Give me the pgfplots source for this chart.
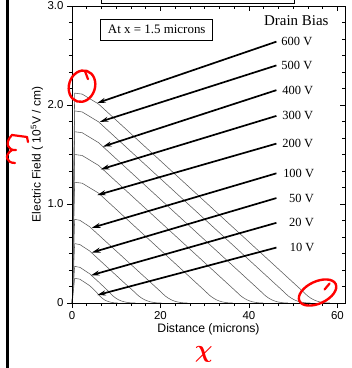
\documentclass[border=0pt]{standalone}
\usepackage{pgfplots}
\pgfplotsset{compat=1.18}
\usepackage{fontspec}
\setmainfont{Liberation Sans}
\newfontfamily\tnr{Liberation Serif}
\usetikzlibrary{arrows.meta,calc}
\begin{document}
\begin{tikzpicture}
\tikzset{
  arr/.style={line width=1.7bp, -{Stealth[length=8.5bp,width=5bp]}},
  lab/.style={anchor=west, inner sep=0pt, font=\tnr\fontsize{12.5}{14}\selectfont},
}
\pgfplotsset{
  common/.style={
    at={(0,0)}, anchor=south west,
    scale only axis, width=273bp, height=297bp,
    xmin=0, xmax=61.7, ymin=0, ymax=3,
    xtick={0,20,40,60}, ytick={0,1,2,3},
    minor x tick num=5, minor y tick num=5,
    major tick length=5bp, minor tick length=3bp,
    tick style={black, line width=0.6bp},
    axis line style={line width=0.8bp},
  },
  curve/.style={black!65, line width=0.55bp, no marks},
  tail/.style={black!65, line width=0.55bp, no marks, smooth, tension=0.55},
}
\begin{axis}[common,
  xtick pos=left, ytick pos=left, tick align=outside,
  yticklabels={0,1.0,2.0,3.0},
  ticklabel style={font=\fontsize{11.5}{13}\selectfont},
  /pgf/number format/assume math mode=true,
  clip=false]
% 600 V
\addplot[curve] coordinates {(0.05,0) (0.6,2.12) (2.3,2.11) (6,2.01) (50.1,0.202)};
\addplot[tail] coordinates {(50.1,0.202) (52.1,0.12) (53.3,0.07) (54.6,0.033) (55.9,0.012) (57.3,0.002) (58.3,0)};
% 500 V
\addplot[curve] coordinates {(0.05,0) (0.6,1.94) (2.3,1.93) (6,1.83) (45.7,0.202)};
\addplot[tail] coordinates {(45.7,0.202) (47.7,0.12) (48.9,0.07) (50.2,0.033) (51.5,0.012) (52.9,0.002) (53.9,0)};
% 400 V
\addplot[curve] coordinates {(0.05,0) (0.6,1.73) (2.3,1.72) (6,1.62) (40.6,0.202)};
\addplot[tail] coordinates {(40.6,0.202) (42.6,0.12) (43.8,0.07) (45.1,0.033) (46.4,0.012) (47.8,0.002) (48.8,0)};
% 300 V
\addplot[curve] coordinates {(0.05,0) (0.6,1.50) (2.3,1.49) (6,1.39) (35,0.202)};
\addplot[tail] coordinates {(35,0.202) (37,0.12) (38.2,0.07) (39.5,0.033) (40.8,0.012) (42.2,0.002) (43.2,0)};
% 200 V
\addplot[curve] coordinates {(0.05,0) (0.6,1.22) (2.3,1.21) (6,1.11) (28.1,0.202)};
\addplot[tail] coordinates {(28.1,0.202) (30.1,0.12) (31.3,0.07) (32.6,0.033) (33.9,0.012) (35.3,0.002) (36.3,0)};
% 100 V
\addplot[curve] coordinates {(0.05,0) (0.6,0.845) (1.8,0.835) (4,0.77) (17.9,0.202)};
\addplot[tail] coordinates {(17.9,0.202) (19.9,0.12) (21.1,0.07) (22.4,0.033) (23.7,0.012) (25.1,0.002) (26.1,0)};
% 50 V
\addplot[curve] coordinates {(0.05,0) (0.6,0.60) (1.8,0.59) (4,0.525) (11.9,0.2)};
\addplot[tail] coordinates {(11.9,0.2) (13.9,0.12) (15.1,0.07) (16.4,0.033) (17.7,0.012) (19.1,0.002) (20.2,0)};
% 20 V
\addplot[curve] coordinates {(0.05,0) (0.6,0.37) (1.8,0.36) (4,0.295) (6.2,0.205)};
\addplot[tail] coordinates {(6.2,0.205) (8.2,0.12) (9.3,0.07) (10.5,0.033) (11.8,0.012) (13.2,0.002) (14.3,0)};
% 10 V
\addplot[curve] coordinates {(0.05,0) (0.6,0.25) (1.8,0.24) (4,0.175)};
\addplot[tail] coordinates {(4,0.175) (5.3,0.12) (6.3,0.07) (7.3,0.033) (8.4,0.012) (9.5,0.002) (10.3,0)};

% arrows
\draw[arr] (axis cs:46.2,2.64) -- (axis cs:5.7,2.02);
\draw[arr] (axis cs:46.2,2.40) -- (axis cs:6.3,1.83);
\draw[arr] (axis cs:46.2,2.15) -- (axis cs:7.0,1.58);
\draw[arr] (axis cs:46.2,1.89) -- (axis cs:6.5,1.35);
\draw[arr] (axis cs:46.2,1.61) -- (axis cs:5.7,1.09);
\draw[arr] (axis cs:46.2,1.31) -- (axis cs:4.5,0.76);
\draw[arr] (axis cs:46.2,1.06) -- (axis cs:4.5,0.51);
\draw[arr] (axis cs:46.2,0.81) -- (axis cs:4.3,0.28);
\draw[arr] (axis cs:46.2,0.56) -- (axis cs:5.7,0.08);

\node[lab] at (axis cs:47.3,2.64) {600 V};
\node[lab] at (axis cs:47.3,2.40) {500 V};
\node[lab] at (axis cs:47.5,2.15) {400 V};
\node[lab] at (axis cs:47.5,1.89) {300 V};
\node[lab] at (axis cs:47.5,1.61) {200 V};
\node[lab] at (axis cs:47.7,1.31) {100 V};
\node[lab] at (axis cs:49.05,1.06) {50 V};
\node[lab] at (axis cs:49.05,0.81) {20 V};
\node[lab] at (axis cs:49.2,0.56) {10 V};
\node[font=\tnr\fontsize{15}{17}\selectfont] at (axis cs:50.7,2.85) {Drain Bias};

\draw[line width=0.7bp] (axis cs:6.48,2.657) rectangle (axis cs:31.8,2.866);
\node[font=\tnr\fontsize{13}{15}\selectfont] at (axis cs:19.15,2.762) {At x = 1.5 microns};

% bottom of a box above the frame
\draw[line width=0.8bp] (axis cs:6.7,3.07) -- (axis cs:6.7,3.027) -- (axis cs:50.3,3.027) -- (axis cs:50.3,3.07);

\node[font=\fontsize{12.3}{14}\selectfont] at (axis cs:30.85,-0.27) {Distance (microns)};
\node[rotate=90, font=\fontsize{12}{14}\selectfont] at (axis cs:-7.9,1.5) {Electric Field ( 10\textsuperscript{5}V / cm)};

\coordinate (r1) at (axis cs:2.26,2.19);
\coordinate (r2) at (axis cs:55.5,0.106);
\coordinate (r3) at (axis cs:29.8,-0.515);
\end{axis}
\begin{axis}[common,
  xtick pos=right, ytick pos=right, tick align=inside,
  xticklabels={}, yticklabels={}]
\end{axis}

% left page border line
\draw[line width=2.5bp] (-64.7bp,-70bp) -- (-64.7bp,310bp);

% red hand annotations
\begin{scope}[shift={(r1)}, rotate=-18]
  \draw[red, line width=2.4bp] (0,0) ellipse [x radius=13bp, y radius=16bp];
\end{scope}
\draw[red, line width=2.2bp, line cap=round] ($(r1)+(3bp,15bp)$) -- ($(r1)+(6bp,7bp)$);
\begin{scope}[shift={(r2)}, rotate=25]
  \draw[red, line width=2.4bp] (0,0) ellipse [x radius=20bp, y radius=11bp];
\end{scope}
\draw[red, line width=2.2bp, line cap=round] ($(r2)+(12bp,9bp)$) -- ($(r2)+(7bp,3bp)$);
\node[red, font={\fontsize{32}{32}\selectfont\boldmath}] at (r3) {$\chi$};
\draw[red, line width=2.2bp, line cap=round] (-45bp,166bp) -- (-60bp,168bp) .. controls (-68bp,160bp) and (-64bp,152bp) .. (-56bp,153bp)
  (-60bp,153bp) .. controls (-68bp,148bp) and (-66bp,140bp) .. (-57bp,140bp);
\draw[red, line width=2.2bp, line cap=round] (-45bp,166bp) -- (-44bp,161bp);

\pgfresetboundingbox
\path[use as bounding box] (-72bp,-65bp) rectangle (280bp,303bp);
\end{tikzpicture}
\end{document}
